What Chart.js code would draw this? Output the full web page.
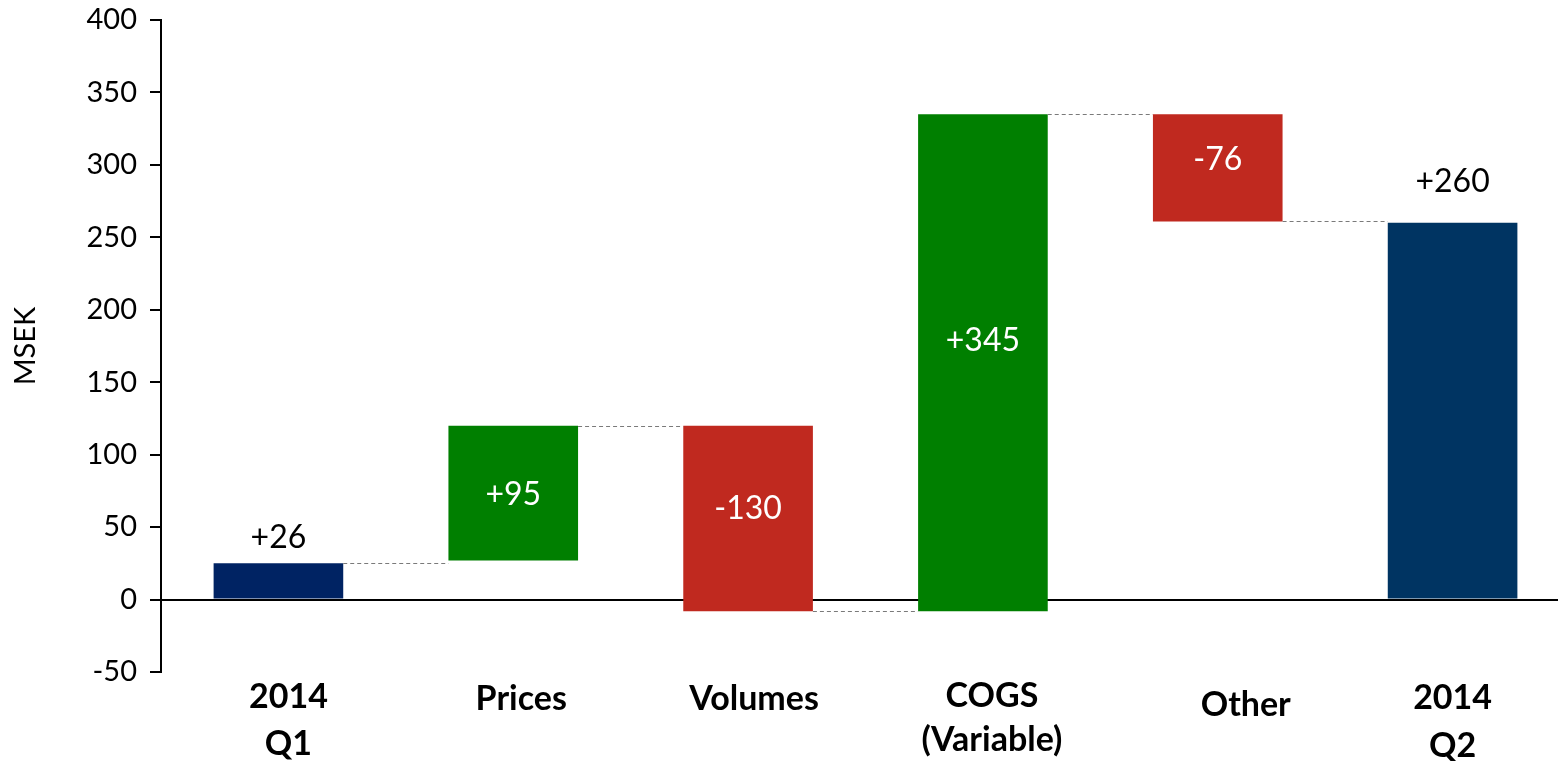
<!DOCTYPE html>
<html>
<head>
<meta charset="utf-8">
<script src="https://cdn.jsdelivr.net/npm/chart.js@4"></script>
<style>
  html, body { margin: 0; padding: 0; background: #ffffff; overflow: hidden; }
  #wrap { position: absolute; left: 0; top: 0; width: 1570px; height: 761px; }
</style>
</head>
<body>
<div id="wrap"><canvas id="c"></canvas></div>
<script>
// ---- Data ----
const categories = [["2014", "Q1"], "Prices", "Volumes", ["COGS", "(Variable)"], "Other", ["2014", "Q2"]];
const barStart = [0, 27, 120, -8, 335, 0];
const barEnd = [25, 120, -8, 335, 261, 260];
const valueLabels = ["+26", "+95", "-130", "+345", "-76", "+260"];
const yTickMin = -50;
const yTickMax = 400;
const yTickStep = 50;
const yTitle = "MSEK";

// ---- Styles ----
const barColors = ["#002363", "#007F00", "#C0291F", "#007F00", "#C0291F", "#003462"];
const labelInside = [false, true, true, true, true, false];
const labelOffsetPx = [26, 2, -10, -22, -8, 41];
const xLabelLineHeightPx = [47, 50, 50, 44, 62, 48];
const xLabelShiftPx = [10, 8, 6, 9, 28, 0];
const FONT = "Lato, 'Open Sans', sans-serif";
const X_FONT_SIZE = 34;

const waterfallPlugin = {
  id: 'waterfall',
  beforeDraw(chart) {
    // small per-category horizontal nudges of the category labels
    const sx = chart.scales.x;
    const items = sx.getLabelItems(chart.chartArea);
    if (items && !items._shifted) {
      items.forEach((it, i) => {
        if (it.options && it.options.translation) it.options.translation[0] += (xLabelShiftPx[i] || 0);
      });
      items._shifted = true;
    }
  },
  afterDatasetsDraw(chart) {
    const ctx = chart.ctx;
    const meta = chart.getDatasetMeta(0);
    const y = chart.scales.y;
    ctx.save();
    // connectors
    ctx.strokeStyle = '#7a7a7a';
    ctx.lineWidth = 1;
    ctx.setLineDash([4, 3]);
    for (let i = 0; i < meta.data.length - 1; i++) {
      const a = meta.data[i], b = meta.data[i + 1];
      const py = Math.round(y.getPixelForValue(barEnd[i])) + 0.5;
      ctx.beginPath();
      ctx.moveTo(a.x + a.width / 2, py);
      ctx.lineTo(b.x - b.width / 2, py);
      ctx.stroke();
    }
    ctx.setLineDash([]);
    // value labels
    ctx.font = "32px " + FONT;
    ctx.textAlign = 'center';
    ctx.textBaseline = 'middle';
    meta.data.forEach((bar, i) => {
      let ty;
      if (labelInside[i]) {
        ctx.fillStyle = '#ffffff';
        ty = (bar.y + bar.base) / 2 + labelOffsetPx[i];
      } else {
        ctx.fillStyle = '#000000';
        ty = Math.min(bar.y, bar.base) - labelOffsetPx[i];
      }
      ctx.fillText(valueLabels[i], bar.x, ty);
    });
    ctx.restore();
  }
};

new Chart(document.getElementById('c'), {
  type: 'bar',
  data: {
    labels: categories,
    datasets: [{
      data: barStart.map((s, i) => [s, barEnd[i]]),
      backgroundColor: barColors,
      borderWidth: 0,
      barPercentage: 0.552,
      categoryPercentage: 1.0
    }]
  },
  options: {
    responsive: true,
    maintainAspectRatio: false,
    animation: false,
    layout: { padding: { top: 20, right: 0, bottom: 0, left: 0 } },
    plugins: {
      legend: { display: false },
      tooltip: { enabled: false }
    },
    scales: {
      x: {
        grid: { display: false, drawTicks: false },
        border: { display: false },
        ticks: {
          color: '#000000',
          padding: 2,
          maxRotation: 0,
          autoSkip: false,
          font: (ctx) => ({
            family: FONT,
            size: X_FONT_SIZE,
            weight: 'bold',
            lineHeight: (xLabelLineHeightPx[ctx.index] || 50) / X_FONT_SIZE
          })
        },
        afterFit: (s) => { s.height = 89; s.paddingLeft = 0; s.paddingRight = 0; }
      },
      y: {
        z: 1,
        min: yTickMin,
        max: yTickMax,
        ticks: {
          stepSize: yTickStep,
          color: '#000000',
          padding: 13,
          font: { family: FONT, size: 29 }
        },
        grid: {
          drawOnChartArea: true,
          color: (ctx) => (ctx.tick && ctx.tick.value === 0) ? '#000000' : 'rgba(0,0,0,0)',
          lineWidth: 2,
          tickColor: '#000000',
          tickLength: 11,
          tickWidth: 2
        },
        border: { display: true, color: '#000000', width: 2 },
        title: {
          display: true,
          text: yTitle,
          color: '#000000',
          font: { family: FONT, size: 29 },
          padding: { top: 8, bottom: 0 }
        },
        afterFit: (s) => { s.width = 161; s.paddingTop = 0; s.paddingBottom = 0; }
      }
    }
  },
  plugins: [waterfallPlugin]
});
</script>
</body>
</html>
